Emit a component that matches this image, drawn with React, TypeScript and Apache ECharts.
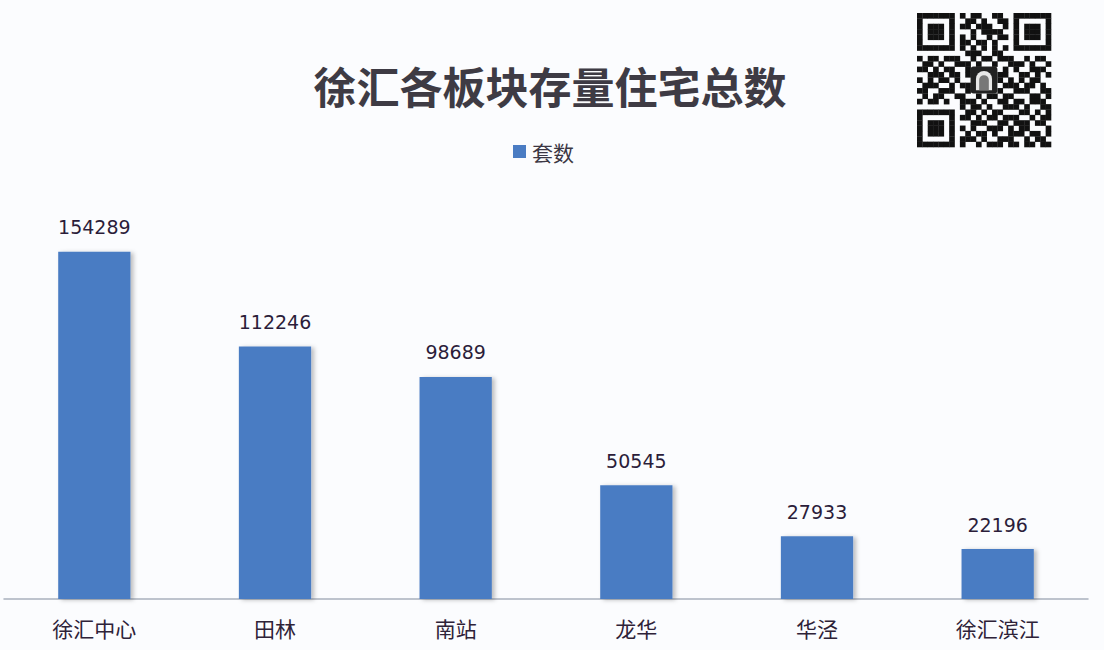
import React, { useEffect, useRef } from "react";
import * as echarts from "echarts";

const categories = ["徐汇中心", "田林", "南站", "龙华", "华泾", "徐汇滨江"];
const seriesName = "套数";
const values = [154289, 112246, 98689, 50545, 27933, 22196];
const titleText = "徐汇各板块存量住宅总数";

// decorative QR-like pattern (fixed)
const qrRows = [
  "1111111010110011001111111",
  "1000001001101001101000001",
  "1011101011011100101011101",
  "1011101000101111001011101",
  "1011101010100101101011101",
  "1000001011011010001000001",
  "1111111010101010101111111",
  "0000000001110011000000000",
  "1011011100101101110010110",
  "0110100111010010011101001",
  "1101011001110110101001110",
  "0011101101000011100110101",
  "1010110100111011010101100",
  "0111001011010010111011010",
  "1100111001101101001110011",
  "0101100110010110110001101",
  "1011010011101001101101110",
  "0000000010110100111010011",
  "1111111001101011000110101",
  "1000001011010110111001011",
  "1011101000111001101110110",
  "1011101010100111010110001",
  "1011101001011010011101101",
  "1000001011101001110010110",
  "1111111010010111011011011",
];

export default function App() {
  const ref = useRef<HTMLDivElement>(null);
  useEffect(() => {
    if (!ref.current) return;
    const chart = echarts.init(ref.current, undefined, { renderer: "svg" });
    const ox = 917, oy = 13, m = 5.36;
    const qr: any[] = [];
    qrRows.forEach((row, r) => {
      for (let c = 0; c < row.length; c++) {
        if (row[c] === "1" && !(r >= 10 && r <= 14 && c >= 10 && c <= 14)) {
          qr.push({ type: "rect", shape: { x: ox + c * m, y: oy + r * m, width: m + 0.3, height: m + 0.3 }, style: { fill: "#111" } });
        }
      }
    });
    qr.push({ type: "rect", shape: { x: ox + 10 * m, y: oy + 10 * m, width: 5 * m, height: 5 * m, r: 3 }, style: { fill: "#222" } });
    qr.push({ type: "rect", shape: { x: ox + 11 * m, y: oy + 10.8 * m, width: 3 * m, height: 3.6 * m, r: [8, 8, 0, 0] }, style: { fill: "#e8e8e8" } });
    qr.push({ type: "rect", shape: { x: ox + 11.6 * m, y: oy + 11.6 * m, width: 1.8 * m, height: 2.8 * m, r: [5, 5, 0, 0] }, style: { fill: "#777" } });

    chart.setOption({
      animation: false,
      backgroundColor: "#fbfcfe",
      title: {
        text: titleText,
        left: 545,
        top: 58,
        textAlign: "center",
        textStyle: { fontFamily: "Noto Sans CJK SC", fontSize: 43, fontWeight: "bold", color: "#3e3b44" },
      },
      legend: {
        data: [seriesName],
        left: 508,
        top: 136,
        itemWidth: 13,
        itemHeight: 13,
        icon: "rect",
        itemGap: 8,
        textStyle: { fontFamily: "Noto Sans CJK SC", fontSize: 21, color: "#3b3744", padding: [0, 0, 0, 1] },
      },
      grid: { left: 4, right: 16, top: 194, bottom: 51, containLabel: false },
      xAxis: {
        type: "category",
        data: categories,
        axisLine: { lineStyle: { color: "#a9b0bd", width: 1.5 } },
        axisTick: { show: false },
        axisLabel: { fontFamily: "Noto Sans CJK SC", fontSize: 21, color: "#2e2238", margin: 18 },
      },
      yAxis: {
        type: "value",
        min: 0,
        max: 180000,
        show: false,
        splitLine: { show: false },
      },
      series: [
        {
          name: seriesName,
          type: "bar",
          data: values,
          barWidth: "40%",
          itemStyle: {
            color: "#4a7cc3",
            shadowColor: "rgba(0,0,0,0.25)",
            shadowOffsetX: 3,
            shadowOffsetY: 1,
            shadowBlur: 4,
          },
          label: {
            show: true,
            position: "top",
            distance: 15,
            fontFamily: "DejaVu Sans",
            fontSize: 19,
            color: "#2b1d3a",
          },
        },
      ],
      graphic: qr,
    });
    return () => chart.dispose();
  }, []);
  return <div ref={ref} style={{ position: "fixed", left: 0, top: 0, width: 1104, height: 650 }} />;
}
